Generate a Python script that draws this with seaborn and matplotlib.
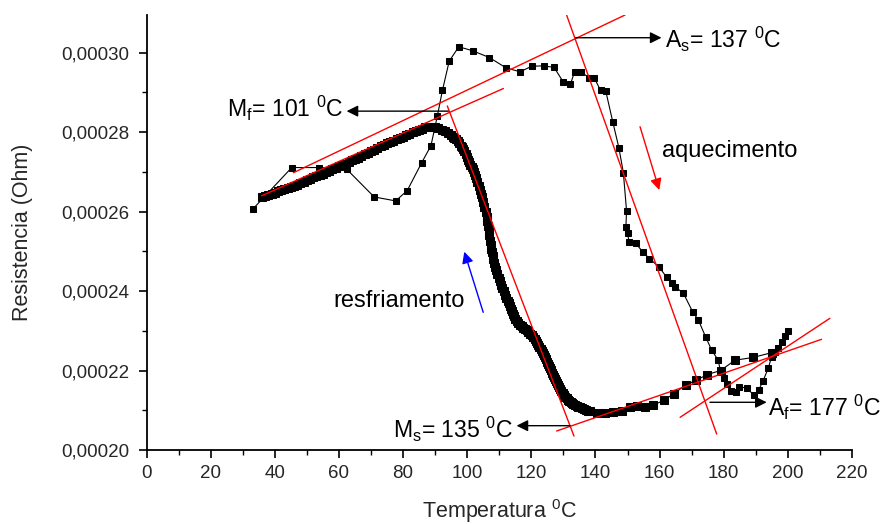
import numpy as np
import pandas as pd
import matplotlib
matplotlib.use("Agg")
import matplotlib.pyplot as plt
from matplotlib.ticker import MultipleLocator, FuncFormatter
import seaborn as sns

# ---------------- data (R in units of 1e-4 Ohm) ----------------
heat_T = [33.1, 45.3, 53.9, 62.4, 71.0, 77.7, 81.3, 85.8, 88.7, 90.7, 92.3, 94.4, 97.4,
          101.7, 106.9, 112.1, 116.5, 120.1, 123.9, 127.1, 130.0, 132.2, 133.5, 135.5,
          138.0, 139.6, 141.6, 143.2, 145.4, 147.3, 148.7, 149.7, 149.5, 150.0, 150.5,
          152.6, 154.7, 156.8, 159.8, 162.2, 163.8, 164.8, 167.4, 170.3, 172.1, 174.4,
          176.2, 178.2, 179.0, 180.2, 181.1, 182.4, 183.8, 184.9, 187.2, 189.4, 190.9,
          192.2, 193.9, 194.9, 196.0, 197.0, 198.1, 199.1, 199.9]
heat_R = [2.606, 2.711, 2.711, 2.707, 2.637, 2.627, 2.653, 2.723, 2.766, 2.841, 2.906, 2.979, 3.015,
          3.005, 2.988, 2.962, 2.952, 2.966, 2.967, 2.963, 2.926, 2.921, 2.952, 2.952,
          2.937, 2.937, 2.905, 2.904, 2.826, 2.761, 2.698, 2.602, 2.562, 2.545, 2.524,
          2.520, 2.499, 2.482, 2.461, 2.435, 2.421, 2.411, 2.395, 2.348, 2.327, 2.284,
          2.252, 2.227, 2.200, 2.180, 2.166, 2.149, 2.145, 2.159, 2.156, 2.138, 2.151,
          2.173, 2.206, 2.234, 2.247, 2.256, 2.273, 2.288, 2.300]

cool_T = [194.9, 189.2, 183.5, 179.0, 174.9, 171.5, 168.2, 164.5, 161.5, 158.1, 155.4, 153.0,
          150.8, 148.2, 145.6, 143.0, 140.4, 138.3, 137.65, 137.0, 136.35, 135.7, 135.15,
          134.6, 134.1, 133.6, 133.15, 132.7, 132.25, 131.8, 131.4, 131.0, 130.6, 130.2,
          129.8, 129.4, 129.05, 128.7, 128.35, 128.0, 127.7, 127.4, 127.05, 126.7, 126.35,
          126.0, 125.7, 125.4, 125.1, 124.8, 124.5, 124.2, 123.9, 123.6, 123.25, 122.9,
          122.55, 122.2, 121.8, 121.4, 121.0, 120.6, 120.1, 119.6, 119.1, 118.6, 118.0,
          117.5, 117.0, 116.5, 116.0, 115.5, 115.0, 114.6, 114.3, 114.0, 113.7, 113.4,
          113.0, 112.6, 112.2, 111.8, 111.4, 111.0, 110.6, 110.2, 109.8, 109.4, 109.05,
          108.7, 108.45, 108.2, 107.95, 107.7, 107.5, 107.3, 107.1, 106.9, 106.7, 106.5,
          106.3, 106.1, 105.75, 105.4, 105.05, 104.7, 104.35, 104.0, 103.6, 103.2, 102.85,
          102.5, 102.15, 101.8, 101.4, 101.0, 100.65, 100.3, 99.9, 99.5, 99.1, 98.7, 98.35,
          98.0, 97.5, 97.0, 96.5, 96.0, 95.5, 95.0, 94.0, 93.0, 92.0, 91.0, 90.0, 89.0,
          88.0, 87.0, 86.0, 85.0, 84.0, 83.0, 82.0, 81.0, 80.0, 79.0, 78.0, 77.0, 76.0,
          75.0, 74.0, 73.0, 72.0, 71.0, 70.0, 69.0, 68.0, 67.0, 66.0, 65.0, 64.0, 63.0,
          62.0, 61.0, 60.0, 59.0, 58.0, 57.0, 56.0, 55.0, 54.0, 53.0, 52.0, 51.0, 50.0,
          49.0, 48.0, 47.0, 46.0, 45.0, 44.0, 43.0, 42.0, 41.0, 40.0, 39.0, 38.0, 37.0, 36.0]
cool_R = [2.245, 2.233, 2.226, 2.200, 2.190, 2.176, 2.164, 2.142, 2.126, 2.113, 2.108, 2.111,
          2.107, 2.099, 2.096, 2.094, 2.094, 2.098, 2.099, 2.101, 2.103, 2.105, 2.107,
          2.109, 2.111, 2.113, 2.115, 2.118, 2.121, 2.124, 2.127, 2.131, 2.134, 2.138,
          2.143, 2.148, 2.153, 2.158, 2.163, 2.168, 2.173, 2.178, 2.184, 2.190, 2.195,
          2.201, 2.206, 2.212, 2.217, 2.222, 2.228, 2.233, 2.238, 2.243, 2.248, 2.254,
          2.259, 2.264, 2.269, 2.274, 2.279, 2.284, 2.289, 2.293, 2.297, 2.301, 2.305,
          2.308, 2.311, 2.315, 2.320, 2.325, 2.331, 2.337, 2.343, 2.350, 2.356, 2.362,
          2.369, 2.376, 2.383, 2.390, 2.399, 2.408, 2.416, 2.425, 2.434, 2.443, 2.452,
          2.461, 2.470, 2.480, 2.489, 2.498, 2.506, 2.515, 2.527, 2.540, 2.552, 2.565,
          2.576, 2.587, 2.600, 2.612, 2.624, 2.636, 2.645, 2.654, 2.665, 2.675, 2.684,
          2.692, 2.700, 2.707, 2.712, 2.718, 2.724, 2.730, 2.738, 2.745, 2.752, 2.758, 2.762,
          2.766, 2.772, 2.777, 2.782, 2.786, 2.789, 2.792, 2.797, 2.802, 2.806, 2.810, 2.812, 2.814,
          2.814, 2.812, 2.809, 2.806, 2.803, 2.800, 2.796, 2.793, 2.789, 2.786, 2.783, 2.779, 2.776,
          2.772, 2.768, 2.764, 2.760, 2.756, 2.752, 2.748, 2.744, 2.740, 2.736, 2.733, 2.729, 2.725,
          2.721, 2.718, 2.714, 2.711, 2.707, 2.703, 2.700, 2.696, 2.693, 2.689, 2.686, 2.682, 2.679,
          2.675, 2.671, 2.668, 2.665, 2.662, 2.659, 2.656, 2.654, 2.651, 2.648, 2.645, 2.643, 2.640, 2.637]

# red tangent lines: (T1, R1, T2, R2)
tangent_lines = [
    (45.8, 2.698, 149.2, 3.0949),
    (35.9, 2.640, 111.3, 2.910),
    (93.8, 2.866, 133.3, 2.0352),
    (131.0, 3.0949, 177.8, 2.0403),
    (127.9, 2.0478, 210.5, 2.2786),
    (166.4, 2.0823, 213.1, 2.3315),
]

# annotations: text, text position, ha, arrow tail, arrow head
annotations = [
    (r"M$_\mathregular{f}$= 101 $^\mathregular{0}$C", (61.3, 2.861), "right", (94.1, 2.853), (62.4, 2.853)),
    (r"A$_\mathregular{s}$= 137 $^\mathregular{0}$C", (161.7, 3.0345), "left", (133.8, 3.0378), (160.6, 3.0378)),
    (r"M$_\mathregular{s}$= 135 $^\mathregular{0}$C", (114.4, 2.0529), "right", (132.1, 2.0612), (115.4, 2.0612)),
    (r"A$_\mathregular{f}$= 177 $^\mathregular{0}$C", (193.8, 2.1082), "left", (175.7, 2.1201), (193.4, 2.1201)),
]
labels_dir = [
    ("aquecimento", (160.6, 2.753), "left", (153.9, 2.8138), (159.9, 2.6544), "#ff0000"),
    ("resfriamento", (99.3, 2.375), "right", (105.0, 2.3466), (99.1, 2.4991), "#0000ff"),
]

xticks = list(range(0, 221, 20))
yticks = [0.00020, 0.00022, 0.00024, 0.00026, 0.00028, 0.00030]

# ---------------- style ----------------
sns.set_style("ticks")
plt.rcParams["font.family"] = ["Liberation Sans", "DejaVu Sans"]
plt.rcParams["mathtext.fontset"] = "custom"
plt.rcParams["mathtext.rm"] = "Liberation Sans"
plt.rcParams["mathtext.it"] = "Liberation Sans:italic"
plt.rcParams["mathtext.bf"] = "Liberation Sans:bold"

fig = plt.figure(figsize=(8.82, 5.24), dpi=100)
ax = fig.add_axes([146.5 / 882, 1 - 450 / 524, (852 - 146.5) / 882, (450 - 15) / 524])

S = 1e-4
heat = pd.DataFrame({"T": heat_T, "R": np.array(heat_R) * S})
cool = pd.DataFrame({"T": cool_T, "R": np.array(cool_R) * S})

for df, ms in ((heat, 4.6), (cool, 5.3)):
    sns.lineplot(data=df, x="T", y="R", sort=False, estimator=None, ax=ax,
                 color="black", lw=0.8, marker="s", markersize=ms,
                 markeredgecolor="black", markerfacecolor="black", zorder=2)

for (t1, r1, t2, r2) in tangent_lines:
    ax.plot([t1, t2], [r1 * S, r2 * S], color="#ff0000", lw=1.0, zorder=3)

for txt, (tx, ty), ha, tail, head in annotations:
    ax.annotate("", xy=(head[0], head[1] * S), xytext=(tail[0], tail[1] * S),
                arrowprops=dict(arrowstyle="-|>", color="black", lw=1.0,
                                mutation_scale=17, shrinkA=0, shrinkB=0), zorder=4)
    ax.text(tx, ty * S, txt, ha=ha, va="center", fontsize=16.6, color="black")

for txt, (tx, ty), ha, tail, head, col in labels_dir:
    ax.annotate("", xy=(head[0], head[1] * S), xytext=(tail[0], tail[1] * S),
                arrowprops=dict(arrowstyle="-|>", color=col, lw=1.0,
                                mutation_scale=17, shrinkA=0, shrinkB=0), zorder=4)
    ax.text(tx, ty * S, txt, ha=ha, va="center", fontsize=17, color="black")

ax.set_xlim(0, 220)
ax.set_ylim(0.00020, 0.0003095)
ax.set_xticks(xticks)
ax.set_yticks(yticks)
ax.xaxis.set_minor_locator(MultipleLocator(10))
ax.yaxis.set_minor_locator(MultipleLocator(0.00001))
ax.yaxis.set_major_formatter(FuncFormatter(lambda v, p: f"{v:.5f}".replace(".", ",")))
ax.tick_params(axis="both", which="major", direction="out", length=6, width=1.2,
               labelsize=13.5, color="black")
ax.tick_params(axis="y", which="major", pad=6.5)
ax.tick_params(axis="x", which="major", pad=5)
ax.tick_params(axis="both", which="minor", direction="out", length=3.5, width=1.0, color="black")

sns.despine(ax=ax, top=True, right=True)
for sp in ("left", "bottom"):
    ax.spines[sp].set_linewidth(1.3)
    ax.spines[sp].set_color("black")

ax.set_xlabel(r"Temperatura $^\mathregular{0}$C", fontsize=15.5)
ax.set_ylabel("Resistencia (Ohm)", fontsize=15.5)
ax.xaxis.set_label_coords(0.5, -0.108)
ax.yaxis.set_label_coords(-0.161, 0.5)

fig.savefig("out.png", dpi=100)
